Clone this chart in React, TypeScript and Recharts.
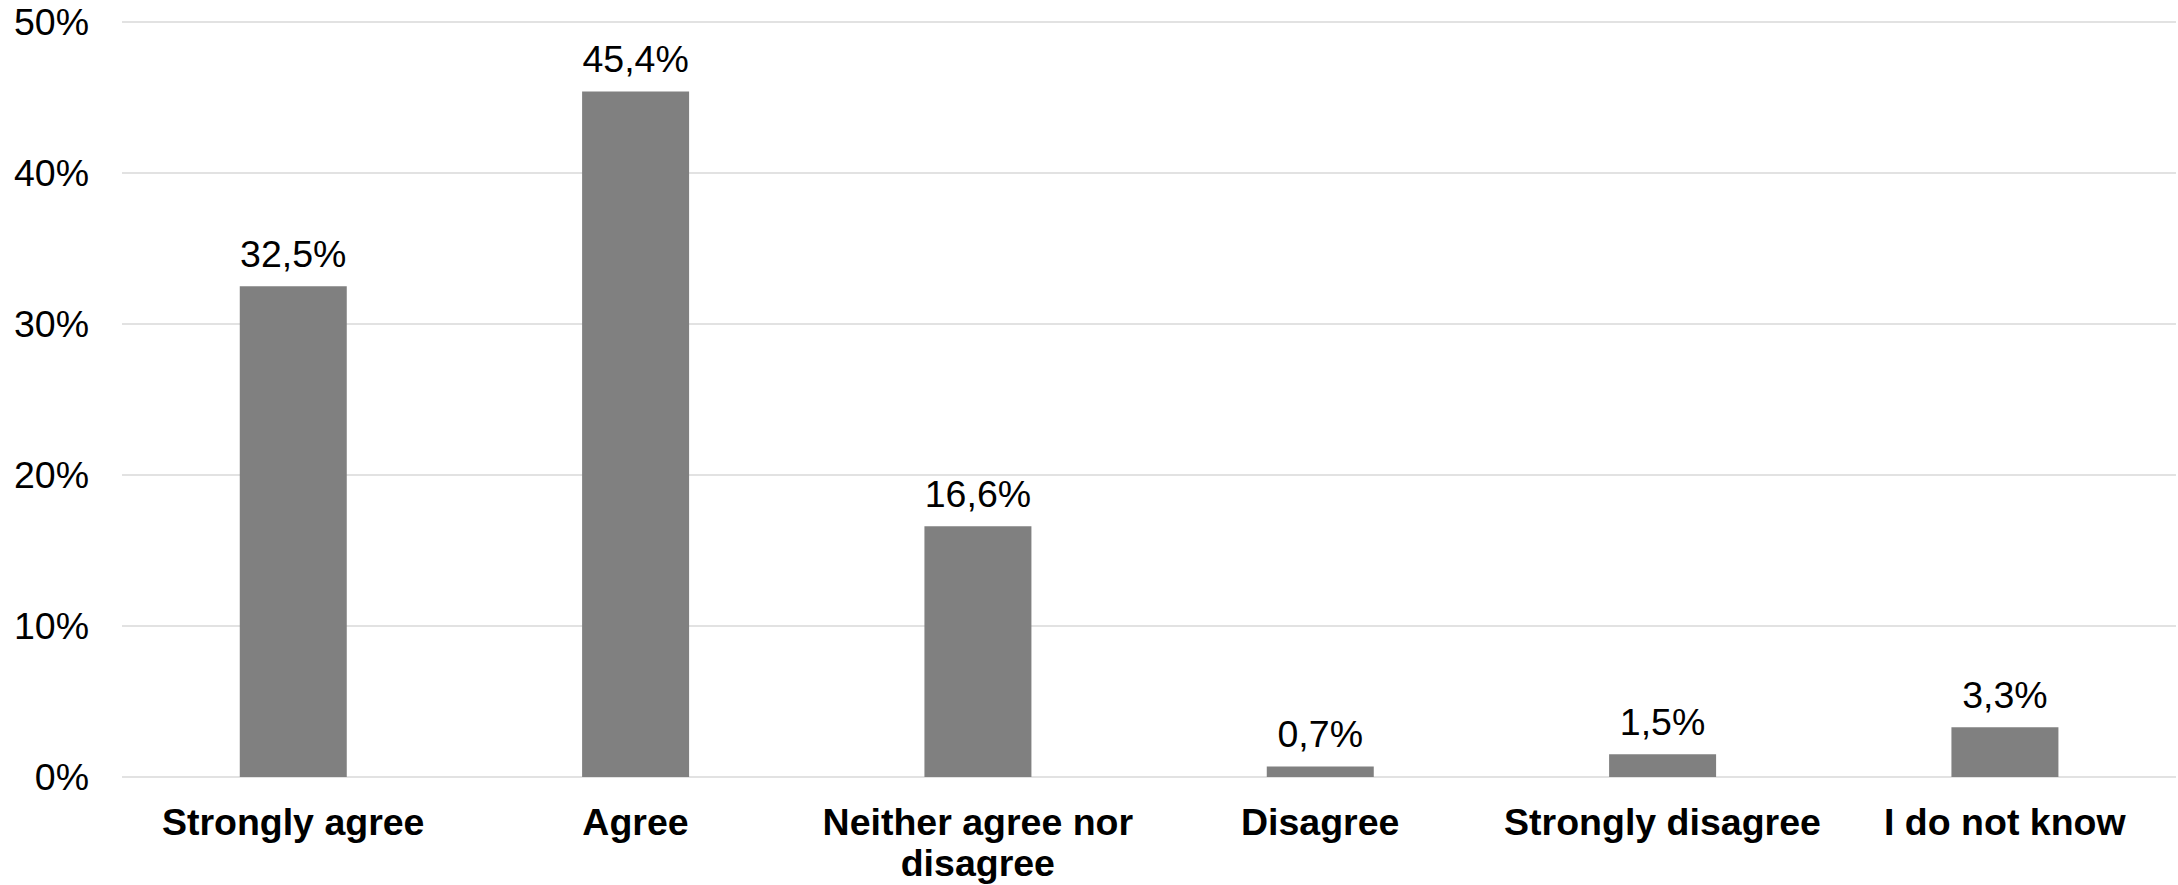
import React from "react";
import { BarChart, Bar, XAxis, YAxis, CartesianGrid, LabelList } from "recharts";

const categories = ["Strongly agree", "Agree", "Neither agree nor disagree", "Disagree", "Strongly disagree", "I do not know"];
const shares = [32.5, 45.4, 16.6, 0.7, 1.5, 3.3];
const yTicks = [0, 10, 20, 30, 40, 50];

const data = categories.map((c, i) => ({ name: c, value: shares[i] }));

const FONT = "'Liberation Sans', Arial, Helvetica, sans-serif";
const FS = 37.5;

let ctx: CanvasRenderingContext2D | null = null;
const measure = (s: string) => {
  if (!ctx) ctx = document.createElement("canvas").getContext("2d");
  if (!ctx) return s.length * FS * 0.6;
  ctx.font = `bold ${FS}px ${FONT}`;
  return ctx.measureText(s).width;
};

const wrap = (s: string, maxW: number) => {
  const words = s.split(" ");
  const lines: string[] = [];
  let cur = "";
  for (const w of words) {
    const t = cur ? cur + " " + w : w;
    if (cur && measure(t) > maxW) {
      lines.push(cur);
      cur = w;
    } else cur = t;
  }
  if (cur) lines.push(cur);
  return lines;
};

const XTick = (props: any) => {
  const { x, y, payload } = props;
  const lines = wrap(String(payload.value), 335);
  return (
    <text
      x={x}
      y={y + 58}
      textAnchor="middle"
      fill="#000"
      style={{ fontSize: FS, fontWeight: 700, fontFamily: FONT }}
    >
      {lines.map((l, i) => (
        <tspan key={i} x={x} dy={i === 0 ? 0 : 41}>
          {l}
        </tspan>
      ))}
    </text>
  );
};

const fmt = (v: any) => Number(v).toFixed(1).replace(".", ",") + "%";

export default function App() {
  return (
    <div style={{ width: 2178, height: 885, background: "#fff" }}>
      <style>{"body{margin:0}"}</style>
      <BarChart
        width={2178}
        height={885}
        data={data}
        margin={{ top: 22, right: 2, bottom: 0, left: 0 }}
        barCategoryGap="34.4%"
      >
        <CartesianGrid vertical={false} stroke="#d9d9d9" strokeWidth={1.5} />
        <XAxis
          dataKey="name"
          height={108}
          axisLine={false}
          tickLine={false}
          tickSize={0}
          tickMargin={0}
          interval={0}
          tick={<XTick />}
        />
        <YAxis
          width={122}
          domain={[0, 50]}
          ticks={yTicks}
          axisLine={false}
          tickLine={false}
          tickSize={0}
          tickMargin={33}
          tickFormatter={(v: number) => `${v}%`}
          tick={{ fontSize: FS, fill: "#000", fontFamily: FONT }}
        />
        <Bar dataKey="value" fill="#808080" isAnimationActive={false}>
          <LabelList
            dataKey="value"
            position="top"
            offset={19}
            formatter={fmt}
            style={{ fontSize: FS, fill: "#000", fontFamily: FONT }}
          />
        </Bar>
      </BarChart>
    </div>
  );
}
